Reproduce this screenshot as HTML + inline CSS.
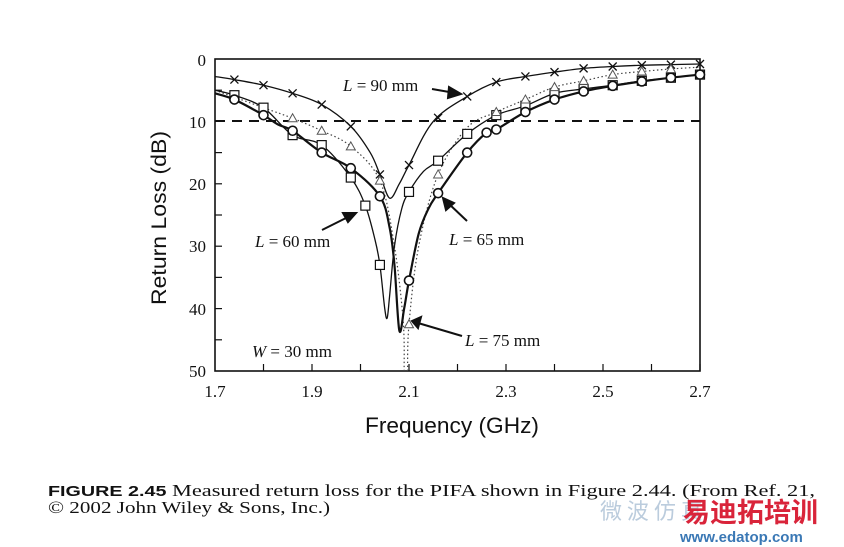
<!DOCTYPE html>
<html><head><meta charset="utf-8"><style>
html,body{margin:0;padding:0;background:#fff;width:844px;height:547px;overflow:hidden}
svg{display:block}
</style></head><body>
<svg id="s" width="844" height="547" xmlns="http://www.w3.org/2000/svg" font-family="Liberation Serif, serif">
<rect width="844" height="547" fill="#fff"/>
<rect x="215" y="59" width="485" height="312" fill="none" stroke="#111" stroke-width="1.6"/>
<g id="ticks" stroke="#111" stroke-width="1.2"></g>
<line x1="215" y1="121" x2="700" y2="121" stroke="#111" stroke-width="2" stroke-dasharray="10,7"/>
<g font-size="17" fill="#111" text-anchor="end">
<text x="206" y="66">0</text><text x="206" y="128">10</text><text x="206" y="190">20</text>
<text x="206" y="252">30</text><text x="206" y="315">40</text><text x="206" y="377">50</text>
</g>
<g font-size="17" fill="#111" text-anchor="middle">
<text x="215" y="397">1.7</text><text x="312" y="397">1.9</text><text x="409" y="397">2.1</text>
<text x="506" y="397">2.3</text><text x="603" y="397">2.5</text><text x="700" y="397">2.7</text>
</g>
<text transform="translate(166,218) rotate(-90)" font-size="21" text-anchor="middle" font-family="Liberation Sans Narrow, Liberation Sans, sans-serif" fill="#111" textLength="174" lengthAdjust="spacingAndGlyphs">Return Loss (dB)</text>
<text x="452" y="433" font-size="22" text-anchor="middle" font-family="Liberation Sans Narrow, Liberation Sans, sans-serif" fill="#111" textLength="174" lengthAdjust="spacingAndGlyphs">Frequency (GHz)</text>
<g id="curves"></g>
<g font-size="17" fill="#111">
<text x="343" y="91"><tspan font-style="italic">L</tspan> = 90 mm</text>
<text x="255" y="247"><tspan font-style="italic">L</tspan> = 60 mm</text>
<text x="449" y="245"><tspan font-style="italic">L</tspan> = 65 mm</text>
<text x="465" y="346"><tspan font-style="italic">L</tspan> = 75 mm</text>
<text x="252" y="357"><tspan font-style="italic">W</tspan> = 30 mm</text>
</g>
<g stroke="#111" stroke-width="2" fill="#111">
<line x1="432" y1="89" x2="455" y2="93"/><polygon points="461,94 449,87 448,98"/>
<line x1="322" y1="230" x2="350" y2="216"/><polygon points="356,213 343,213 348,222"/>
<line x1="467" y1="221" x2="448" y2="203"/><polygon points="443,198 446,210 454,203"/>
<line x1="462" y1="336" x2="418" y2="323"/><polygon points="412,321 421,317 418,328"/>
</g>
<text x="48" y="496" font-size="17" fill="#111" textLength="767" lengthAdjust="spacingAndGlyphs"><tspan font-family="Liberation Sans, sans-serif" font-weight="bold" font-size="15">FIGURE 2.45</tspan>   Measured return loss for the PIFA shown in Figure 2.44. (From Ref. 21,</text>
<text x="48" y="513" font-size="17" fill="#111" textLength="282" lengthAdjust="spacingAndGlyphs">© 2002 John Wiley &amp; Sons, Inc.)</text>
<text x="600" y="519" font-size="22" fill="#bcd" font-family="Noto Sans CJK SC, sans-serif">微 波 仿 真</text>
<text x="683" y="522" font-size="27" font-weight="bold" fill="#d9243a" font-family="Noto Sans CJK SC, sans-serif">易迪拓培训</text>
<text x="680" y="542" font-size="15" font-weight="bold" fill="#3a78b5" font-family="Liberation Sans, sans-serif">www.edatop.com</text>
</svg>
<script>
function X(f){return 215+(f-1.7)*485}
function Y(d){return 59+d*6.24}
var tk=document.getElementById('ticks'),h='';
for(var f=1.8;f<2.71;f+=0.1){var x=X(f);h+='<line x1="'+x+'" y1="371" x2="'+x+'" y2="364"/>';}
for(var d=5;d<50;d+=5){var y=Y(d);h+='<line x1="215" y1="'+y+'" x2="222" y2="'+y+'"/>';}
tk.innerHTML=h;
function path(pts){var p=pts.map(function(a){return [X(a[0]),Y(a[1])]});var s='M'+p[0][0]+','+p[0][1];
for(var i=0;i<p.length-1;i++){var p0=p[i-1]||p[i],p1=p[i],p2=p[i+1],p3=p[i+2]||p2;
s+=' C'+(p1[0]+(p2[0]-p0[0])/6)+','+(p1[1]+(p2[1]-p0[1])/6)+' '+(p2[0]-(p3[0]-p1[0])/6)+','+(p2[1]-(p3[1]-p1[1])/6)+' '+p2[0]+','+p2[1];}
return s;}
function interp(pts,f){for(var i=0;i<pts.length-1;i++){if(f>=pts[i][0]&&f<=pts[i+1][0]){var t=(f-pts[i][0])/(pts[i+1][0]-pts[i][0]);return pts[i][1]+t*(pts[i+1][1]-pts[i][1]);}}return pts[pts.length-1][1];}
var L90=[[1.7,2.8],[1.74,3.3],[1.8,4.2],[1.86,5.5],[1.92,7.3],[1.98,10.8],[2.02,15],[2.04,18.5],[2.06,22.3],[2.08,20],[2.1,17],[2.15,10],[2.22,6],[2.28,3.7],[2.34,2.8],[2.4,2.1],[2.46,1.5],[2.52,1.2],[2.58,1.0],[2.64,0.9],[2.7,0.8]];
var L60=[[1.7,5],[1.74,5.8],[1.8,7.8],[1.86,12.2],[1.92,13.8],[1.98,19],[2.01,23.5],[2.03,29],[2.04,33],[2.05,40],[2.055,41.5],[2.06,38],[2.07,30],[2.085,24],[2.1,21.3],[2.13,18],[2.16,16.3],[2.22,12],[2.28,9],[2.34,7.5],[2.4,5.5],[2.46,4.8],[2.52,4.2],[2.58,3.5],[2.64,3],[2.7,2.5]];
var L75=[[1.7,5.5],[1.74,6.5],[1.8,9],[1.83,10.5],[1.86,11.5],[1.92,15],[1.98,17.5],[2.04,22],[2.06,27],[2.07,33],[2.08,43.5],[2.09,40],[2.1,35.5],[2.12,28],[2.14,24],[2.16,21.5],[2.22,15],[2.26,11.8],[2.28,11.3],[2.34,8.5],[2.4,6.5],[2.46,5.2],[2.52,4.3],[2.58,3.6],[2.64,3.0],[2.7,2.5]];
var L65a=[[1.7,5],[1.8,7.8],[1.86,9.5],[1.92,11.5],[1.98,14],[2.04,19.5],[2.07,30],[2.088,42],[2.09,50]];
var L65b=[[2.097,50],[2.1,42.5],[2.12,30],[2.16,18.5],[2.22,11],[2.28,8.5],[2.34,6.5],[2.4,4.5],[2.46,3.5],[2.52,2.5],[2.58,2],[2.64,1.6],[2.7,1.3]];
var g=document.getElementById('curves'),o='';
o+='<path d="'+path(L65a)+'" fill="none" stroke="#444" stroke-width="1.2" stroke-dasharray="1.5,2.5"/>';
o+='<path d="'+path(L65b)+'" fill="none" stroke="#444" stroke-width="1.2" stroke-dasharray="1.5,2.5"/>';
o+='<path d="'+path(L90)+'" fill="none" stroke="#111" stroke-width="1.3"/>';
o+='<path d="'+path(L60)+'" fill="none" stroke="#111" stroke-width="1.3"/>';
o+='<path d="'+path(L75)+'" fill="none" stroke="#111" stroke-width="2.2"/>';
var xm=[1.74,1.8,1.86,1.92,1.98,2.04,2.1,2.16,2.22,2.28,2.34,2.4,2.46,2.52,2.58,2.64,2.7];
xm.forEach(function(f){var x=X(f),y=Y(interp(L90,f));o+='<path d="M'+(x-4)+','+(y-4)+'L'+(x+4)+','+(y+4)+'M'+(x-4)+','+(y+4)+'L'+(x+4)+','+(y-4)+'" stroke="#111" stroke-width="1.3"/>';});
[[1.74,5.8],[1.8,7.8],[1.86,12.2],[1.92,13.8],[1.98,19],[2.01,23.5],[2.04,33],[2.1,21.3],[2.16,16.3],[2.22,12],[2.28,9],[2.34,7.5],[2.4,5.5],[2.46,4.8],[2.52,4.2],[2.58,3.5],[2.64,3],[2.7,2.5]].forEach(function(a){var x=X(a[0]),y=Y(a[1]);o+='<rect x="'+(x-4.5)+'" y="'+(y-4.5)+'" width="9" height="9" fill="#fff" stroke="#111" stroke-width="1.2"/>';});
[[1.74,6.5],[1.8,9],[1.86,11.5],[1.92,15],[1.98,17.5],[2.04,22],[2.1,35.5],[2.16,21.5],[2.22,15],[2.26,11.8],[2.28,11.3],[2.34,8.5],[2.4,6.5],[2.46,5.2],[2.52,4.3],[2.58,3.6],[2.64,3.0],[2.7,2.5]].forEach(function(a){o+='<circle cx="'+X(a[0])+'" cy="'+Y(a[1])+'" r="4.5" fill="#fff" stroke="#111" stroke-width="1.6"/>';});
[[1.86,9.5],[1.92,11.5],[1.98,14],[2.04,19.5],[2.1,42.5],[2.16,18.5],[2.28,8.5],[2.34,6.5],[2.4,4.5],[2.46,3.5],[2.52,2.5],[2.58,2],[2.64,1.6]].forEach(function(a){var x=X(a[0]),y=Y(a[1]);o+='<polygon points="'+x+','+(y-4.5)+' '+(x-4.5)+','+(y+3.5)+' '+(x+4.5)+','+(y+3.5)+'" fill="#fff" stroke="#555" stroke-width="1"/>';});
g.innerHTML=o;
</script>
</body></html>
